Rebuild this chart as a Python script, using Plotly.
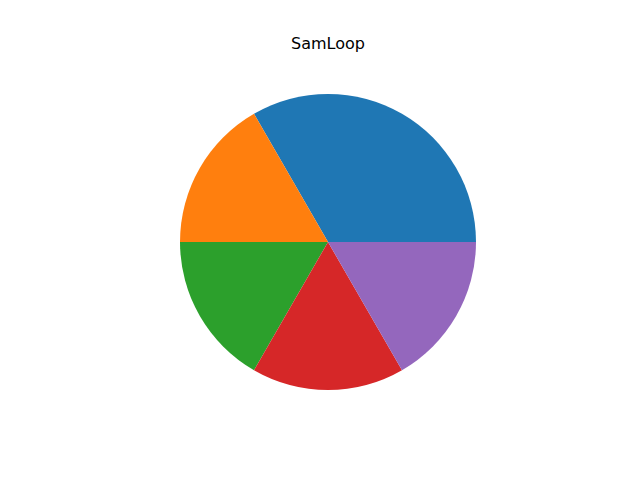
import plotly.graph_objects as go

labels = ["A", "B", "C", "D", "E"]
values = [2, 1, 1, 1, 1]
colors = ["#1f77b4", "#ff7f0e", "#2ca02c", "#d62728", "#9467bd"]
title = "SamLoop"

W, H = 640, 480
cx, cy, r = 328, 242, 148

fig = go.Figure(go.Pie(
    labels=labels, values=values, sort=False,
    direction="counterclockwise", rotation=-30,
    marker=dict(colors=colors, line=dict(width=0)),
    textinfo="none", hoverinfo="label+value",
    domain=dict(x=[(cx - r) / W, (cx + r) / W], y=[(H - cy - r) / H, (H - cy + r) / H]),
))
fig.update_layout(
    width=W, height=H, margin=dict(l=0, r=0, t=0, b=0),
    paper_bgcolor="white", plot_bgcolor="white", showlegend=False,
    annotations=[dict(text=title, x=cx / W, y=(H - 43) / H, xref="paper", yref="paper",
                      showarrow=False, xanchor="center", yanchor="middle",
                      font=dict(family="DejaVu Sans", size=16, color="black"))],
)
fig.write_html("out.html")
